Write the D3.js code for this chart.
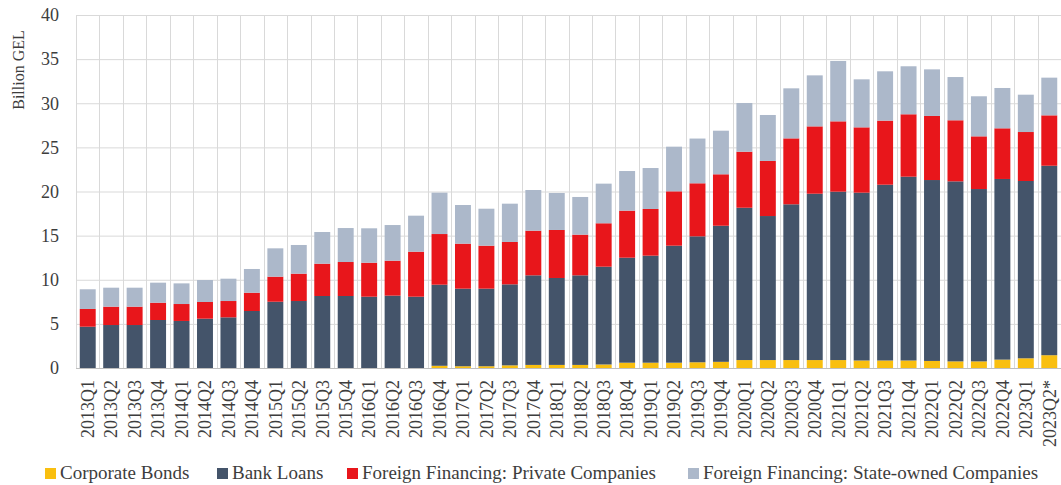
<!DOCTYPE html>
<html>
<head>
<meta charset="utf-8">
<script src="https://cdn.jsdelivr.net/npm/d3@7/dist/d3.min.js"></script>
<style>
  html, body { margin: 0; padding: 0; background: #fff; }
  svg text { font-family: "Liberation Serif", "DejaVu Serif", serif; fill: #3d3d3d; }
</style>
</head>
<body>
<svg id="chart" width="1061" height="485"></svg>
<script>
// Quarterly corporate financing in Georgia, billion GEL
const quarters = [
  "2013Q1","2013Q2","2013Q3","2013Q4","2014Q1","2014Q2","2014Q3","2014Q4",
  "2015Q1","2015Q2","2015Q3","2015Q4","2016Q1","2016Q2","2016Q3","2016Q4",
  "2017Q1","2017Q2","2017Q3","2017Q4","2018Q1","2018Q2","2018Q3","2018Q4",
  "2019Q1","2019Q2","2019Q3","2019Q4","2020Q1","2020Q2","2020Q3","2020Q4",
  "2021Q1","2021Q2","2021Q3","2021Q4","2022Q1","2022Q2","2022Q3","2022Q4",
  "2023Q1","2023Q2*"
];
const corporateBonds = [
  0,0,0,0,0,0,0,0, 0,0,0,0,0,0,0,0.25,
  0.2,0.2,0.3,0.35,0.35,0.35,0.4,0.6,
  0.6,0.6,0.65,0.7,0.9,0.9,0.9,0.9,
  0.9,0.85,0.85,0.85,0.8,0.75,0.75,0.95,
  1.1,1.45
];
const bankLoans = [
  4.68,4.87,4.87,5.44,5.33,5.59,5.74,6.46,
  7.51,7.59,8.16,8.16,8.08,8.20,8.08,9.19,
  8.79,8.79,9.18,10.15,9.85,10.15,11.08,11.90,
  12.13,13.26,14.27,15.42,17.26,16.32,17.65,18.85,
  19.08,19.02,19.92,20.83,20.50,20.40,19.53,20.47,
  20.09,21.47
];
const foreignPrivate = [
  2.01,2.08,2.08,1.96,1.92,1.89,1.85,2.07,
  2.84,3.10,3.66,3.85,3.85,3.96,5.10,5.74,
  5.10,4.87,4.80,5.06,5.44,4.61,4.92,5.33,
  5.29,6.16,6.01,5.83,6.35,6.24,7.47,7.63,
  7.97,7.40,7.26,7.07,7.26,6.92,5.97,5.74,
  5.55,5.71
];
const foreignStateOwned = [
  2.23,2.15,2.15,2.27,2.34,2.49,2.53,2.69,
  3.21,3.25,3.59,3.85,3.90,4.04,4.08,4.69,
  4.38,4.19,4.34,4.61,4.19,4.27,4.49,4.49,
  4.64,5.06,5.07,4.94,5.52,5.21,5.67,5.78,
  6.84,5.44,5.59,5.44,5.28,4.90,4.54,4.57,
  4.23,4.27
];
const seriesNames = [
  "Corporate Bonds",
  "Bank Loans",
  "Foreign Financing: Private Companies",
  "Foreign Financing: State-owned Companies"
];
const seriesColors = ["#F9BF10", "#44546A", "#E8161B", "#ACB8CA"];
const yTicks = [0, 5, 10, 15, 20, 25, 30, 35, 40];

const keys = ["bonds", "loans", "private", "state"];
const rows = quarters.map((q, i) => ({
  q,
  bonds: corporateBonds[i],
  loans: bankLoans[i],
  private: foreignPrivate[i],
  state: foreignStateOwned[i]
}));

const svg = d3.select("#chart");
const plot = { left: 76, right: 1061, top: 15, bottom: 368 };

const x = d3.scaleBand()
  .domain(quarters)
  .range([plot.left, plot.right])
  .paddingInner(0.32)
  .paddingOuter(0.16);

const y = d3.scaleLinear()
  .domain([0, 40])
  .range([plot.bottom, plot.top]);

const color = d3.scaleOrdinal().domain(keys).range(seriesColors);

// Horizontal grid
svg.append("g")
  .selectAll("line")
  .data(yTicks.filter(d => d > 0))
  .join("line")
  .attr("x1", plot.left).attr("x2", plot.right)
  .attr("y1", d => y(d) + 0.5).attr("y2", d => y(d) + 0.5)
  .attr("stroke", "#D9D9D9").attr("stroke-width", 1);

// Vertical grid on category boundaries
svg.append("g")
  .selectAll("line")
  .data(d3.range(quarters.length + 1))
  .join("line")
  .attr("x1", i => Math.round(plot.left + i * x.step()) + 0.5)
  .attr("x2", i => Math.round(plot.left + i * x.step()) + 0.5)
  .attr("y1", plot.top).attr("y2", plot.bottom)
  .attr("stroke", "#D9D9D9").attr("stroke-width", 1);

// Stacked bars
const stacked = d3.stack().keys(keys)(rows);
svg.append("g")
  .selectAll("g")
  .data(stacked)
  .join("g")
  .attr("fill", d => color(d.key))
  .selectAll("rect")
  .data(d => d)
  .join("rect")
  .attr("x", d => x(d.data.q))
  .attr("width", x.bandwidth())
  .attr("y", d => y(d[1]))
  .attr("height", d => Math.max(0, y(d[0]) - y(d[1])));

// Baseline
svg.append("line")
  .attr("x1", plot.left).attr("x2", plot.right)
  .attr("y1", plot.bottom + 0.5).attr("y2", plot.bottom + 0.5)
  .attr("stroke", "#BFBFBF").attr("stroke-width", 1.2);

// Y axis labels
const yAxis = svg.append("g")
  .attr("transform", `translate(${plot.left - 17},0)`)
  .call(d3.axisLeft(y).tickValues(yTicks).tickSize(0).tickPadding(0));
yAxis.select(".domain").remove();
yAxis.selectAll("text")
  .style("font-family", '"Liberation Serif", serif')
  .style("font-size", "18px")
  .attr("fill", "#3d3d3d");

svg.append("text")
  .attr("transform", `translate(24,70) rotate(-90)`)
  .attr("text-anchor", "middle")
  .style("font-size", "16px")
  .text("Billion GEL");

// X axis labels, rotated
const xAxis = svg.append("g")
  .attr("transform", `translate(0,${plot.bottom})`)
  .call(d3.axisBottom(x).tickSize(0).tickPadding(0));
xAxis.select(".domain").remove();
xAxis.selectAll("text")
  .style("font-family", '"Liberation Serif", serif')
  .style("font-size", "18px")
  .attr("fill", "#3d3d3d")
  .attr("text-anchor", "end")
  .attr("dy", "0.35em")
  .attr("transform", "translate(0,12) rotate(-90)")
  .attr("x", 0).attr("y", 0);

// Legend
const legendX = [45, 217, 347, 688];
const legend = svg.append("g");
seriesNames.forEach((name, i) => {
  const g = legend.append("g").attr("transform", `translate(${legendX[i]},0)`);
  g.append("rect")
    .attr("x", 0).attr("y", 468)
    .attr("width", 11).attr("height", 11)
    .attr("fill", seriesColors[i]);
  g.append("text")
    .attr("x", 15).attr("y", 479)
    .style("font-size", "19px")
    .text(name);
});
</script>
</body>
</html>
